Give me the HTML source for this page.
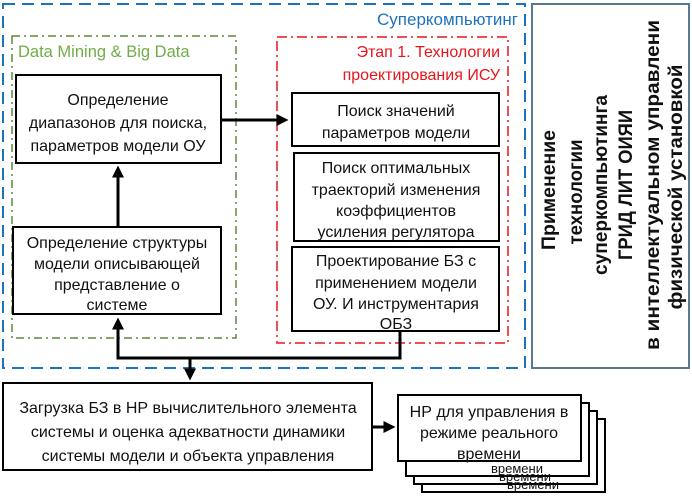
<!DOCTYPE html>
<html><head><meta charset="utf-8"><style>
body{margin:0;background:#fff}
svg{display:block}
text{font-family:"Liberation Sans",sans-serif;font-size:16px;fill:#111}
text.v{font-weight:bold;font-size:19px}
text.s{font-size:13px}
</style></head><body>
<svg width="692" height="500" viewBox="0 0 692 500" xmlns="http://www.w3.org/2000/svg">
<defs>
<marker id="ah" markerWidth="4" markerHeight="4" refX="2.5" refY="2" orient="auto" markerUnits="strokeWidth">
<path d="M0,0 L4,2 L0,4 z" fill="#000"/></marker>
</defs>
<rect x="3" y="4" width="522" height="364" fill="none" stroke="#1e73be" stroke-width="2" stroke-dasharray="12,7"/>
<text x="518" y="25" text-anchor="end" style="fill:#1e73be;font-size:17px">Суперкомпьютинг</text>
<rect x="532" y="4" width="157" height="364" fill="none" stroke="#5a7891" stroke-width="2"/>
<g text-anchor="middle">
<text class="v" transform="translate(555,190) rotate(-90)" textLength="120" lengthAdjust="spacingAndGlyphs">Применение</text>
<text class="v" transform="translate(582,192) rotate(-90)" textLength="105" lengthAdjust="spacingAndGlyphs">технологии</text>
<text class="v" transform="translate(607,185) rotate(-90)" textLength="180" lengthAdjust="spacingAndGlyphs">суперкомпьютинга</text>
<text class="v" transform="translate(632,185) rotate(-90)" textLength="150" lengthAdjust="spacingAndGlyphs">ГРИД ЛИТ ОИЯИ</text>
<text class="v" transform="translate(659,185) rotate(-90)" textLength="330" lengthAdjust="spacingAndGlyphs">в интеллектуальном управлени</text>
<text class="v" transform="translate(682,187) rotate(-90)" textLength="245" lengthAdjust="spacingAndGlyphs">физической установкой</text>
</g>
<rect x="12" y="36" width="224" height="302" fill="none" stroke="#5d8a3a" stroke-width="1.5" stroke-dasharray="8,4,2,4"/>
<text x="18" y="57" style="fill:#70ad47;font-size:16.5px">Data Mining &amp; Big Data</text>
<rect x="277" y="37" width="231" height="306" fill="none" stroke="#e8141c" stroke-width="1.5" stroke-dasharray="10,4,2,4"/>
<text x="500" y="57" text-anchor="end" style="fill:#e8141c">Этап 1. Технологии</text>
<text x="500" y="80" text-anchor="end" style="fill:#e8141c">проектирования ИСУ</text>
<rect x="16" y="75" width="205" height="88" fill="#fff" stroke="#000" stroke-width="2"/>
<g text-anchor="middle">
<text x="118" y="105">Определение</text>
<text x="118" y="128">диапазонов для поиска,</text>
<text x="118" y="151">параметров модели ОУ</text>
</g>
<rect x="13" y="227" width="208" height="87" fill="#fff" stroke="#000" stroke-width="2"/>
<g text-anchor="middle">
<text x="117" y="248">Определение структуры</text>
<text x="117" y="269">модели описывающей</text>
<text x="117" y="290">представление о</text>
<text x="117" y="310">системе</text>
</g>
<rect x="292" y="93" width="207" height="53" fill="#fff" stroke="#000" stroke-width="2"/>
<g text-anchor="middle">
<text x="396" y="116">Поиск значений</text>
<text x="396" y="138">параметров модели</text>
</g>
<rect x="294" y="153" width="205" height="88" fill="#fff" stroke="#000" stroke-width="2"/>
<g text-anchor="middle">
<text x="396" y="173">Поиск оптимальных</text>
<text x="396" y="195">траекторий изменения</text>
<text x="396" y="216">коэффициентов</text>
<text x="396" y="237">усиления регулятора</text>
</g>
<rect x="292" y="247" width="207" height="84" fill="#fff" stroke="#000" stroke-width="2"/>
<g text-anchor="middle">
<text x="396" y="266">Проектирование БЗ с</text>
<text x="396" y="288">применением модели</text>
<text x="396" y="309">ОУ. И инструментария</text>
<text x="396" y="329">ОБЗ</text>
</g>
<line x1="118" y1="227" x2="118" y2="170" stroke="#000" stroke-width="3" marker-end="url(#ah)"/>
<line x1="221" y1="120" x2="284" y2="120" stroke="#000" stroke-width="3" marker-end="url(#ah)"/>
<polyline points="118,322 118,358 400,358 400,331" fill="none" stroke="#000" stroke-width="3"/>
<line x1="118" y1="358" x2="118" y2="322" stroke="#000" stroke-width="3" marker-end="url(#ah)"/>
<line x1="190" y1="358" x2="190" y2="376" stroke="#000" stroke-width="3" marker-end="url(#ah)"/>
<rect x="3" y="383" width="369" height="87" fill="#fff" stroke="#000" stroke-width="2"/>
<g text-anchor="middle">
<text x="188" y="413">Загрузка БЗ в НР вычислительного элемента</text>
<text x="188" y="437">системы и оценка адекватности динамики</text>
<text x="188" y="461">системы модели и объекта управления</text>
</g>
<line x1="372" y1="427" x2="391" y2="427" stroke="#000" stroke-width="3" marker-end="url(#ah)"/>
<g stroke="#000" stroke-width="2" fill="#fff">
<rect x="422" y="419" width="183" height="73"/>
<rect x="414" y="411" width="183" height="73"/>
<rect x="406" y="403" width="183" height="73"/>
</g>
<g text-anchor="middle">
<text class="s" x="533" y="489">времени</text>
<text class="s" x="525" y="481">времени</text>
<text class="s" x="517" y="473">времени</text>
</g>
<rect x="398" y="395" width="183" height="66" fill="#fff" stroke="#000" stroke-width="2"/>
<g text-anchor="middle">
<text x="489" y="417">НР для управления в</text>
<text x="489" y="438">режиме реального</text>
<text x="489" y="459">времени</text>
</g>
</svg>
</body></html>
